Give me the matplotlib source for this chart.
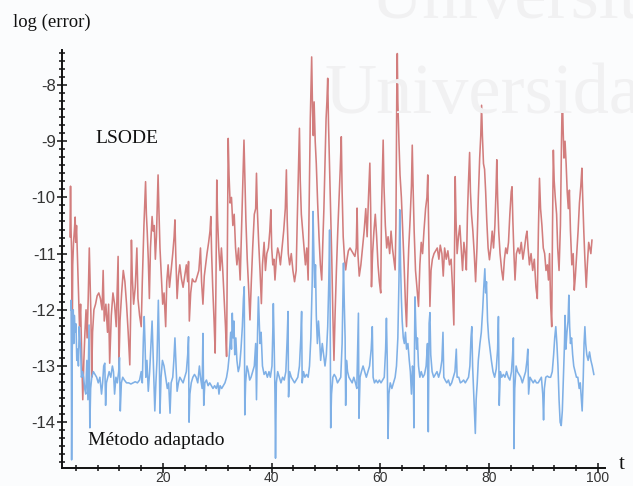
import numpy as np
import matplotlib
matplotlib.use("Agg")
import matplotlib.pyplot as plt
from matplotlib.ticker import MultipleLocator, FixedLocator

# (t, log(error)) samples for each integrator
lsode_samples = [
    (2.90,-10.7),(3.00,-9.8),(3.10,-10.6),(3.20,-11.0),(3.30,-12.8),(3.40,-11.2),(3.55,-10.8),(3.70,-10.6),
    (3.85,-10.35),(3.95,-10.8),(4.10,-10.5),(4.25,-11.0),(4.45,-11.6),(4.65,-12.3),(4.85,-11.9),(5.05,-12.8),
    (5.25,-13.6),(5.45,-12.9),(5.65,-12.4),(5.85,-12.0),(6.05,-12.5),(6.25,-11.8),(6.45,-10.9),(6.60,-11.5),
    (6.75,-12.1),(6.90,-13.2),(7.05,-12.4),
    (7.3,-12.0),(7.6,-11.9),(7.9,-11.75),(8.2,-11.7),(8.5,-11.8),(8.8,-12.0),(9.0,-11.3),(9.2,-12.2),(9.5,-11.9),
    (9.8,-12.4),(10.0,-11.9),(10.2,-12.95),(10.5,-12.1),(10.8,-11.7),(11.1,-11.9),(11.4,-12.3),(11.6,-11.6),
    (11.75,-11.05),(11.9,-13.0),(12.1,-12.2),(12.4,-11.7),(12.7,-11.3),(13.0,-11.5),(13.3,-11.9),(13.6,-12.4),
    (13.9,-12.98),(14.05,-12.1),(14.2,-10.76),(14.35,-11.4),(14.6,-11.9),
    (14.9,-11.6),(15.2,-10.9),(15.4,-11.8),(15.7,-12.1),(16.0,-12.3),(16.2,-11.5),(16.5,-10.5),(16.8,-9.72),
    (16.95,-10.3),(17.1,-10.6),(17.3,-11.1),(17.5,-11.8),(17.7,-10.9),(18.0,-10.34),(18.2,-10.6),(18.4,-10.5),
    (18.6,-11.1),(18.8,-10.7),(19.1,-9.6),(19.25,-10.2),(19.45,-10.9),(19.7,-11.4),(19.95,-11.9),(20.2,-11.7),
    (20.5,-12.3),
    (20.7,-11.5),(20.95,-11.2),(21.2,-11.6),(21.5,-11.3),(21.8,-11.0),(22.05,-10.7),(22.2,-10.4),(22.35,-11.0),
    (22.6,-11.8),(22.85,-11.4),(23.1,-11.2),(23.4,-11.45),(23.7,-11.6),(24.0,-11.4),(24.3,-11.2),(24.55,-11.5),
    (24.7,-11.14),(24.85,-12.2),(25.1,-11.7),(25.4,-11.45),(25.7,-11.5),(26.0,-11.5),
    (26.3,-11.4),(26.6,-11.3),(26.9,-10.9),(27.1,-11.5),(27.35,-11.9),(27.6,-11.4),(27.85,-11.2),(28.1,-11.0),
    (28.4,-10.8),(28.65,-10.6),(28.8,-10.34),(28.95,-11.0),(29.15,-11.6),(29.4,-12.2),(29.6,-12.77),(29.75,-11.5),
    (29.9,-9.69),(30.05,-10.4),(30.25,-10.9),(30.5,-11.3),(30.75,-10.9),(31.0,-11.3),(31.25,-11.8),(31.5,-12.3),
    (31.7,-12.83),(31.85,-11.0),(32.0,-8.95),(32.15,-9.6),(32.35,-10.1),
    (32.6,-10.0),(32.85,-10.5),(33.1,-10.3),(33.35,-10.9),(33.6,-11.2),(33.9,-10.9),(34.2,-11.47),(34.45,-10.6),
    (34.7,-9.8),(34.9,-8.98),(35.05,-9.6),(35.25,-10.4),(35.5,-11.1),(35.75,-11.6),(36.0,-12.18),(36.25,-11.5),
    (36.5,-10.9),(36.8,-10.3),(37.05,-10.2),(37.2,-9.57),(37.35,-10.2),(37.6,-10.8),(37.85,-11.3),(38.1,-11.89),
    (38.3,-11.2),(38.6,-10.8),(38.85,-11.3),
    (39.1,-11.0),(39.4,-10.9),(39.65,-10.6),(39.85,-10.22),(40.0,-10.9),(40.2,-11.2),(40.4,-11.1),(40.6,-11.47),
    (40.85,-11.1),(41.1,-10.9),(41.35,-11.0),(41.6,-11.2),(41.9,-10.9),(42.2,-10.6),(42.5,-10.2),(42.7,-9.51),
    (42.85,-10.4),(43.05,-11.0),(43.3,-11.2),(43.6,-11.0),(43.9,-11.3),(44.2,-11.5),(44.5,-11.3),(44.7,-10.4),
    (44.9,-9.6),(45.1,-8.77),(45.25,-9.7),(45.45,-10.3),(45.7,-10.6),(45.95,-10.9),(46.2,-11.2),(46.45,-10.9),
    (46.7,-11.47),(46.9,-10.0),(47.1,-8.6),
    (47.35,-7.5),(47.5,-8.4),(47.65,-8.9),(47.8,-8.3),(48.0,-9.0),(48.2,-9.4),(48.45,-10.1),(48.7,-10.7),
    (48.95,-11.2),(49.2,-11.47),(49.4,-10.8),(49.6,-10.2),(49.8,-9.4),(50.0,-8.6),(50.15,-8.3),(50.3,-7.88),
    (50.45,-8.7),(50.65,-9.5),(50.85,-10.3),(51.05,-11.1),(51.25,-12.1),(51.45,-12.9),(51.65,-12.1),(51.9,-11.3),
    (52.15,-10.6),(52.4,-10.0),(52.6,-9.5),(52.8,-8.92),(52.95,-9.9),
    (53.15,-10.7),(53.4,-11.1),(53.6,-11.29),(53.85,-11.1),(54.1,-10.95),(54.4,-10.9),(54.7,-10.95),(55.0,-11.0),
    (55.3,-11.05),(55.55,-10.9),(55.7,-10.19),(55.85,-11.0),(56.1,-11.4),(56.4,-11.2),(56.7,-10.9),(57.0,-10.6),
    (57.3,-10.2),(57.55,-10.7),(57.8,-10.0),(58.05,-9.39),(58.2,-10.2),(58.35,-11.59),(58.55,-11.0),(58.8,-10.6),
    (59.05,-10.3),(59.3,-10.7),(59.55,-11.2),(59.8,-11.5),(60.05,-11.7),(60.2,-10.2),(60.4,-9.4),(60.5,-8.98),
    (60.65,-9.8),
    (60.9,-10.5),(61.15,-10.9),(61.4,-10.7),(61.7,-11.0),(61.95,-10.6),(62.2,-10.9),(62.45,-11.1),(62.7,-11.29),
    (62.85,-10.5),(63.0,-8.2),(63.1,-7.44),(63.2,-8.3),(63.4,-9.0),(63.6,-9.6),(63.85,-10.0),(64.1,-10.6),
    (64.35,-11.2),(64.6,-11.9),(64.8,-12.3),(65.0,-11.5),(65.2,-10.9),(65.45,-10.4),(65.7,-9.8),(65.85,-9.07),
    (66.0,-9.8),(66.2,-10.6),(66.45,-11.3),(66.7,-11.6),(67.0,-11.94),
    (67.25,-11.2),(67.5,-10.8),(67.75,-11.0),(68.0,-10.6),(68.3,-10.2),(68.55,-10.0),(68.7,-9.6),(68.85,-10.5),
    (69.1,-11.94),(69.3,-11.3),(69.55,-11.1),(69.85,-11.0),(70.15,-10.95),(70.45,-10.9),(70.75,-11.1),(71.0,-10.85),
    (71.3,-11.0),(71.55,-11.4),(71.8,-10.9),(72.1,-11.1),(72.4,-10.95),(72.7,-11.2),(73.0,-11.1),(73.25,-11.6),
    (73.5,-12.27),(73.65,-10.8),(73.75,-9.63),(73.9,-10.4),(74.1,-11.0),
    (74.35,-10.7),(74.6,-10.5),(74.85,-10.9),(75.1,-11.3),(75.35,-10.8),(75.6,-11.0),(75.8,-11.29),(76.0,-10.3),
    (76.2,-9.7),(76.4,-9.2),(76.55,-9.9),(76.75,-10.3),(77.0,-10.6),(77.25,-11.0),(77.5,-11.5),(77.75,-10.9),
    (78.0,-10.0),(78.25,-9.3),(78.45,-8.9),(78.6,-8.36),(78.75,-8.9),(78.95,-9.4),(79.15,-9.5),(79.35,-9.9),
    (79.55,-10.4),(79.8,-10.9),(80.05,-11.11),(80.3,-10.9),(80.55,-10.6),
    (80.8,-10.9),(81.05,-10.5),(81.25,-9.9),(81.4,-9.33),(81.55,-10.0),(81.75,-10.6),(82.0,-11.0),(82.3,-11.3),
    (82.55,-11.47),(82.8,-11.1),(83.05,-10.9),(83.3,-11.0),(83.55,-10.8),(83.8,-10.3),(84.05,-9.9),(84.2,-9.81),
    (84.35,-10.4),(84.55,-11.0),(84.75,-11.47),(85.0,-11.0),(85.3,-10.9),(85.6,-11.0),(85.9,-10.8),(86.2,-11.1),
    (86.5,-10.9),(86.75,-10.7),(86.95,-10.6),(87.15,-10.9),(87.4,-11.2),
    (87.7,-11.0),(88.0,-11.3),(88.3,-11.1),(88.6,-11.6),(88.85,-11.8),(89.05,-10.6),(89.25,-9.66),(89.45,-10.2),
    (89.7,-10.5),(89.95,-10.9),(90.2,-11.0),(90.45,-11.3),(90.7,-11.2),(90.9,-11.47),(91.1,-11.0),(91.3,-11.9),
    (91.5,-12.3),(91.65,-10.5),(91.8,-9.16),(91.95,-9.7),(92.15,-10.0),(92.4,-10.3),(92.6,-10.9),(92.85,-11.3),
    (93.1,-10.5),(93.3,-9.0),(93.45,-8.12),
    (93.6,-8.8),(93.75,-9.3),(93.95,-9.0),(94.15,-9.4),(94.35,-9.9),(94.55,-10.2),(94.75,-9.87),(94.95,-10.6),
    (95.2,-11.2),(95.45,-11.0),(95.65,-11.65),(95.85,-11.4),(96.1,-11.0),(96.35,-10.6),(96.6,-10.1),(96.85,-9.8),
    (97.05,-9.48),(97.2,-10.0),(97.4,-10.6),(97.6,-11.1),(97.85,-11.6),(98.05,-11.2),(98.3,-10.8),(98.5,-10.9),
    (98.7,-11.0),(98.9,-10.76),
]

adaptive_samples = [
    (3.05,-12.0),(3.1,-11.83),(3.15,-13.0),(3.2,-14.67),(3.3,-12.8),(3.4,-12.2),(3.5,-12.0),(3.6,-12.6),
    (3.7,-12.1),(3.85,-12.4),(4.0,-12.25),(4.15,-12.9),(4.3,-12.7),(4.45,-13.0),(4.6,-12.3),(4.7,-12.5),
    (4.85,-12.7),(5.0,-13.2),(5.2,-13.1),(5.4,-13.2),(5.6,-13.4),(5.8,-13.5),(6.0,-12.9),(6.2,-13.6),
    (6.4,-12.27),(6.55,-14.1),(6.7,-13.4),(6.9,-13.2),
    (7.2,-13.1),(7.5,-13.15),(7.8,-13.2),(8.1,-13.3),(8.4,-13.2),(8.7,-13.5),(8.9,-13.3),(9.1,-13.0),
    (9.3,-12.95),(9.45,-13.7),(9.6,-13.3),(9.85,-13.2),(10.1,-13.1),(10.4,-13.2),(10.7,-13.0),(10.9,-13.1),
    (11.1,-13.5),(11.35,-13.2),(11.6,-13.3),(11.85,-13.1),(12.0,-12.85),(12.15,-13.8),(12.35,-13.3),(12.6,-13.2),
    (12.9,-13.25),
    (13.3,-13.3),(13.7,-13.3),(14.1,-13.32),(14.5,-13.3),(14.9,-13.28),(15.3,-13.3),(15.7,-13.25),(16.0,-13.1),
    (16.2,-13.3),(16.4,-12.5),(16.55,-12.12),(16.7,-12.6),(16.85,-13.2),(17.05,-12.9),(17.3,-13.45),(17.55,-13.1),
    (17.8,-12.6),(18.0,-12.2),(18.15,-12.7),(18.3,-13.2),(18.5,-13.8),(18.7,-13.3),(18.9,-12.9),(19.05,-12.3),
    (19.15,-11.83),(19.3,-12.6),(19.45,-13.84),(19.65,-13.2),(19.9,-12.9),
    (20.2,-13.0),(20.5,-13.2),(20.8,-13.4),(21.05,-13.3),(21.3,-13.84),(21.5,-13.3),(21.8,-13.2),(22.0,-12.9),
    (22.2,-12.5),(22.4,-13.0),(22.6,-13.45),(22.85,-13.3),(23.1,-13.2),(23.4,-13.25),(23.7,-13.3),(24.0,-13.2),
    (24.3,-13.1),(24.55,-12.8),(24.7,-12.48),(24.8,-14.0),(24.95,-13.5),(25.2,-13.3),(25.5,-13.2),(25.8,-13.15),
    (26.1,-13.2),(26.4,-13.3),(26.7,-13.0),(26.9,-13.2),
    (27.2,-13.4),(27.35,-12.42),(27.5,-13.7),(27.7,-13.3),(28.0,-13.25),(28.3,-13.35),(28.6,-13.3),(28.9,-13.35),
    (29.2,-13.4),(29.5,-13.35),(29.8,-13.4),(30.1,-13.3),(30.3,-13.5),(30.5,-13.35),(30.8,-13.4),(31.1,-13.35),
    (31.4,-13.3),(31.7,-13.2),(31.95,-13.05),(32.2,-12.8),(32.45,-12.4),(32.6,-12.7),(32.75,-12.06),(32.9,-12.5),
    (33.05,-12.2),(33.2,-12.8),(33.4,-12.5),(33.6,-12.9),
    (33.85,-13.1),(34.1,-13.0),(34.35,-12.7),(34.6,-12.3),(34.8,-11.8),(34.95,-11.59),(35.05,-13.87),(35.2,-13.3),
    (35.45,-13.0),(35.7,-13.1),(35.95,-13.25),(36.2,-13.2),(36.5,-13.1),(36.8,-13.0),(37.05,-12.6),(37.2,-13.6),
    (37.4,-12.4),(37.55,-11.77),(37.7,-12.2),(37.85,-12.6),(38.05,-12.4),(38.3,-13.0),(38.6,-13.15),(38.9,-13.1),
    (39.2,-13.2),(39.5,-13.1),(39.75,-13.2),
    (40.05,-13.0),(40.2,-12.4),(40.3,-11.89),(40.45,-12.6),(40.6,-13.5),(40.7,-14.64),(40.85,-13.3),(41.1,-13.1),
    (41.4,-13.2),(41.7,-13.3),(42.0,-13.2),(42.3,-13.25),(42.6,-13.1),(42.85,-12.5),(43.0,-12.03),(43.1,-13.55),
    (43.3,-13.1),(43.6,-13.2),(43.9,-13.25),(44.2,-13.3),(44.5,-13.25),(44.8,-13.2),(45.1,-13.0),(45.35,-12.5),
    (45.5,-12.03),(45.6,-13.3),(45.85,-13.1),(46.1,-13.2),(46.4,-13.15),(46.7,-13.2),(46.95,-13.0),(47.2,-12.5),
    (47.45,-11.5),(47.6,-10.25),(47.75,-11.0),(47.9,-11.6),(48.05,-11.2),(48.2,-12.1),(48.4,-12.6),(48.6,-12.2),
    (48.8,-12.5),(49.0,-12.9),(49.3,-12.6),(49.55,-12.8),(49.8,-13.0),(50.05,-12.8),(50.3,-12.3),(50.5,-11.5),
    (50.65,-10.58),(50.75,-12.0),(50.85,-14.1),(51.0,-13.5),(51.25,-13.2),(51.5,-13.15),(51.8,-13.2),(52.1,-13.3),
    (52.4,-13.25),(52.7,-13.2),(52.95,-12.6),(53.1,-11.8),(53.2,-11.17),
    (53.35,-11.9),(53.5,-12.5),(53.6,-13.7),(53.75,-12.9),(53.95,-13.1),(54.2,-13.2),(54.5,-13.25),(54.8,-13.3),
    (55.1,-13.2),(55.4,-13.3),(55.65,-13.4),(55.8,-12.7),(55.95,-12.06),(56.05,-13.93),(56.25,-13.2),(56.5,-13.1),
    (56.8,-13.0),(57.1,-13.1),(57.4,-13.2),(57.7,-13.1),(58.0,-13.0),(58.3,-12.7),(58.5,-12.3),(58.65,-13.2),
    (58.9,-13.3),(59.2,-13.25),(59.5,-13.3),(59.8,-13.25),(60.1,-13.3),
    (60.4,-13.25),(60.7,-13.2),(60.95,-12.7),(61.1,-12.15),(61.25,-12.9),(61.4,-14.29),(61.55,-13.5),(61.8,-13.3),
    (62.1,-13.4),(62.4,-13.3),(62.7,-13.2),(62.95,-13.0),(63.2,-12.5),(63.4,-11.5),(63.55,-10.22),(63.7,-11.2),
    (63.85,-11.8),(64.0,-12.2),(64.2,-12.5),(64.4,-12.6),(64.6,-12.4),(64.8,-12.7),(65.05,-12.6),(65.3,-12.9),
    (65.5,-13.1),(65.7,-13.5),(65.9,-13.0),(66.05,-13.2),(66.15,-14.1),(66.25,-12.8),(66.35,-11.77),
    (66.5,-12.3),(66.65,-12.7),(66.8,-12.5),(67.0,-13.0),(67.25,-13.2),(67.5,-13.1),(67.8,-13.2),(68.1,-13.15),
    (68.4,-13.0),(68.65,-12.6),(68.8,-14.17),(68.95,-12.24),(69.1,-12.05),(69.25,-12.8),(69.5,-13.1),(69.8,-13.2),
    (70.1,-13.15),(70.4,-13.1),(70.7,-13.2),(71.0,-13.1),(71.3,-12.9),(71.5,-12.4),(71.65,-13.2),(71.9,-13.25),
    (72.2,-13.3),(72.5,-13.25),(72.8,-13.35),(73.1,-13.3),(73.4,-13.2),(73.7,-13.1),(73.95,-12.7),(74.1,-13.2),
    (74.4,-13.2),(74.7,-13.3),(75.0,-13.28),(75.3,-13.25),(75.6,-13.3),(75.9,-13.25),(76.2,-13.2),(76.45,-13.0),
    (76.65,-12.5),(76.8,-12.3),(76.95,-13.0),(77.2,-13.6),(77.45,-14.2),(77.6,-13.6),(77.8,-13.3),(78.0,-12.9),
    (78.3,-12.6),(78.55,-12.4),(78.8,-12.0),(79.0,-11.6),(79.2,-11.27),(79.35,-11.7),(79.5,-11.5),(79.7,-12.2),
    (79.9,-12.5),(80.15,-12.7),(80.4,-12.9),(80.7,-13.1),
    (81.0,-13.2),(81.3,-13.05),(81.55,-12.7),(81.7,-12.12),(81.85,-13.7),(82.05,-13.1),(82.3,-13.2),(82.6,-13.15),
    (82.9,-13.2),(83.2,-13.1),(83.5,-13.2),(83.8,-13.25),(84.1,-13.1),(84.3,-12.8),(84.45,-12.5),(84.55,-14.47),
    (84.7,-13.4),(84.95,-13.0),(85.2,-13.1),(85.5,-13.15),(85.8,-13.2),(86.1,-13.3),(86.4,-13.2),(86.7,-13.1),
    (86.95,-12.9),(87.1,-12.7),(87.25,-13.5),(87.5,-13.2),(87.8,-13.25),
    (88.1,-13.3),(88.4,-13.25),(88.7,-13.3),(89.0,-13.3),(89.3,-13.25),(89.6,-13.2),(89.85,-13.5),(90.0,-13.96),
    (90.15,-13.4),(90.4,-13.2),(90.7,-13.18),(91.0,-13.2),(91.3,-13.2),(91.6,-13.1),(91.85,-12.8),(92.05,-12.5),
    (92.25,-12.3),(92.45,-12.6),(92.65,-13.0),(92.85,-13.6),(93.05,-14.0),(93.25,-14.06),(93.45,-13.8),(93.65,-13.2),
    (93.85,-12.6),(93.95,-12.1),
    (94.1,-12.7),(94.3,-12.4),(94.5,-12.2),(94.65,-11.74),(94.8,-12.3),(94.95,-12.6),(95.15,-12.5),(95.35,-12.8),
    (95.55,-13.0),(95.8,-13.1),(96.05,-13.2),(96.3,-13.2),(96.55,-13.4),(96.75,-13.3),(96.95,-13.6),(97.1,-13.8),
    (97.3,-13.2),(97.45,-12.6),(97.6,-12.3),(97.75,-12.6),(97.95,-12.8),(98.2,-12.9),(98.45,-12.75),(98.7,-12.9),
    (98.95,-13.0),(99.25,-13.15),
]

x_major_ticks = [20, 40, 60, 80, 100]
y_major_ticks = [-8, -9, -10, -11, -12, -13, -14]

lsode_t, lsode_err = np.array(lsode_samples).T
adapt_t, adapt_err = np.array(adaptive_samples).T

plt.rcParams["axes.unicode_minus"] = False

W, H = 633, 486
fig = plt.figure(figsize=(W / 100, H / 100), dpi=100)
fig.patch.set_facecolor("#fbfcfd")

# faint background lettering
wm_kw = dict(family="Liberation Serif", fontsize=52, color="#f1f1f2", zorder=0)
fig.text(370 / W, 1 - 18 / H, "Universitat", va="baseline", ha="left", **wm_kw)
fig.text(325 / W, 1 - 113 / H, "Universidad", va="baseline", ha="left", **wm_kw)

ax = fig.add_axes([62 / W, 18 / H, 543 / W, 418 / H])
ax.patch.set_alpha(0)
ax.set_xlim(1.43, 101.3)
ax.set_ylim(-14.815, -7.377)

ax.plot(lsode_t, lsode_err, color="#d27d7d", lw=1.15, zorder=3)
ax.plot(adapt_t, adapt_err, color="#7fb0e6", lw=1.15, zorder=3)

for side in ("top", "right"):
    ax.spines[side].set_visible(False)
for side in ("left", "bottom"):
    ax.spines[side].set_linewidth(1.4)
    ax.spines[side].set_color("#111111")

ax.xaxis.set_major_locator(FixedLocator(x_major_ticks))
ax.xaxis.set_minor_locator(MultipleLocator(4))
ax.yaxis.set_major_locator(FixedLocator(y_major_ticks))
ax.yaxis.set_minor_locator(MultipleLocator(1 / 7))
ax.tick_params(which="both", direction="inout", color="#111111", width=1.1)
ax.tick_params(which="major", length=7)
ax.tick_params(which="minor", length=5)
ax.tick_params(axis="y", pad=1, labelsize=12, labelcolor="#333333")
ax.tick_params(axis="x", pad=-1.5, labelsize=10, labelcolor="#333333")
for lab in ax.get_xticklabels() + ax.get_yticklabels():
    lab.set_family("Liberation Sans")

ax.text(7.5, -9.03, "LSODE", family="Liberation Serif", fontsize=14,
        ha="left", va="baseline", color="#111111")
ax.text(6.2, -14.41, "Método adaptado", family="Liberation Serif", fontsize=14,
        ha="left", va="baseline", color="#111111")

fig.text(13 / W, 1 - 27 / H, "log (error)", family="Liberation Serif", fontsize=13.5,
         ha="left", va="baseline", color="#111111")
fig.text(619 / W, 1 - 469 / H, "t", family="Liberation Serif", fontsize=15,
         ha="left", va="baseline", color="#111111")

fig.savefig("out.png", dpi=100, facecolor=fig.get_facecolor())
